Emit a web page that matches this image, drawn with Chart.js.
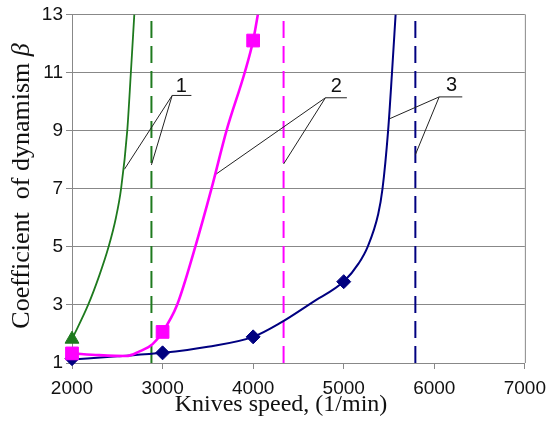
<!DOCTYPE html>
<html>
<head>
<meta charset="utf-8">
<script src="https://cdn.jsdelivr.net/npm/chart.js@4.4.0/dist/chart.umd.min.js"></script>
<style>
  html, body { margin: 0; padding: 0; background: #fff; }
</style>
</head>
<body>
<canvas id="myChart" width="554" height="440"></canvas>
<script>
// ticks
const xTicks = [2000, 3000, 4000, 5000, 6000, 7000];
const yTicks = [1, 3, 5, 7, 9, 11, 13];

// curve 1 (green)
const speed1 = [2000, 2178, 2300, 2404, 2485, 2542, 2610, 2650, 2688];
const beta1 = [1.82, 3, 4, 5, 6, 7, 9, 11, 13];
const markSpeed1 = [2000];
const markBeta1 = [1.82];

// curve 2 (magenta)
const speed2 = [2000, 2300, 2600, 2740, 2890, 3000, 3160, 3361, 3540, 3706, 3907, 4000, 4052];
const beta2 = [1.33, 1.27, 1.24, 1.39, 1.65, 2.07, 3, 5, 7, 9, 11, 12.1, 13];
const markSpeed2 = [2000, 3000, 4000];
const markBeta2 = [1.33, 2.07, 12.1];

// curve 3 (navy)
const speed3 = [2000, 2500, 3000, 3500, 4000, 4300, 4650, 5006, 5163, 5264, 5381, 5428, 5490, 5533, 5573];
const beta3 = [1.12, 1.23, 1.35, 1.56, 1.9, 2.38, 3.08, 3.82, 4.42, 5, 6.13, 6.99, 8.99, 10.99, 13];
const markSpeed3 = [2000, 3000, 4000, 5000];
const markBeta3 = [1.15, 1.35, 1.9, 3.8];

// critical speeds (dashed verticals)
const limitSpeed = [2877, 4336, 5791];

// leader lines for the labels 1, 2, 3 (speed, beta)
const labelText = ['1', '2', '3'];
const labelSpeed = [3206, 4917, 6192];
const labelBeta = [10.53, 10.51, 10.56];
const leaderCornerSpeed = [3106, 4798, 6054];
const leaderCornerBeta = [10.21, 10.13, 10.16];
const leaderEndSpeed = [3318, 5035, 6309];
const leaderCurveSpeed = [2579, 3580, 5508];
const leaderCurveBeta = [7.67, 7.48, 9.41];
const leaderDashBeta = [7.82, 7.85, 8.17];

const green = 'rgb(30,122,30)';
const magenta = '#ff00ff';
const navy = '#000080';
const colors = [green, magenta, navy];

function pts(xs, ys) {
  return xs.map((x, i) => ({x: x, y: ys[i]}));
}

const datasets = [];

// markers on top
datasets.push({data: pts(markSpeed1, markBeta1), showLine: false, pointStyle: 'triangle', pointRadius: 8,
  backgroundColor: green, borderColor: green, borderWidth: 1, clip: false, order: 1});
datasets.push({data: pts(markSpeed2, markBeta2), showLine: false, pointStyle: 'rect', pointRadius: 9,
  backgroundColor: magenta, borderColor: magenta, borderWidth: 1, clip: false, order: 2});
datasets.push({data: pts(markSpeed3, markBeta3), showLine: false, pointStyle: 'rectRot', pointRadius: 7,
  backgroundColor: navy, borderColor: navy, borderWidth: 1, clip: false, order: 3});

// curves
datasets.push({data: pts(speed1, beta1), showLine: true, borderColor: green, borderWidth: 1.8,
  pointRadius: 0, cubicInterpolationMode: 'monotone', order: 5});
datasets.push({data: pts(speed2, beta2), showLine: true, borderColor: magenta, borderWidth: 2.6,
  pointRadius: 0, cubicInterpolationMode: 'monotone', order: 4});
datasets.push({data: pts(speed3, beta3), showLine: true, borderColor: navy, borderWidth: 2,
  pointRadius: 0, cubicInterpolationMode: 'monotone', order: 6});

// dashed limits
for (let i = 0; i < limitSpeed.length; i++) {
  datasets.push({data: [{x: limitSpeed[i], y: 1}, {x: limitSpeed[i], y: 13}], showLine: true,
    borderColor: colors[i], borderWidth: 2, borderDash: [17, 8], pointRadius: 0, order: 8});
}

// leaders
for (let i = 0; i < labelText.length; i++) {
  datasets.push({data: [
      {x: leaderCurveSpeed[i], y: leaderCurveBeta[i]},
      {x: leaderCornerSpeed[i], y: leaderCornerBeta[i]},
      {x: leaderEndSpeed[i], y: leaderCornerBeta[i]}],
    showLine: true, borderColor: '#222', borderWidth: 1, pointRadius: 0, order: 7});
  datasets.push({data: [
      {x: leaderCornerSpeed[i], y: leaderCornerBeta[i]},
      {x: limitSpeed[i], y: leaderDashBeta[i]}],
    showLine: true, borderColor: '#222', borderWidth: 1, pointRadius: 0, order: 7});
}

const extras = {
  id: 'extras',
  afterDraw(chart) {
    const ctx = chart.ctx;
    const a = chart.chartArea;
    const xs = chart.scales.x, ys = chart.scales.y;
    ctx.save();
    // right border
    ctx.strokeStyle = '#888';
    ctx.lineWidth = 1;
    ctx.beginPath();
    ctx.moveTo(a.right + 0.5, a.top);
    ctx.lineTo(a.right + 0.5, a.bottom);
    ctx.stroke();

    // label numbers
    ctx.fillStyle = '#111';
    ctx.font = '20px "Liberation Sans"';
    ctx.textAlign = 'center';
    ctx.textBaseline = 'middle';
    for (let i = 0; i < labelText.length; i++) {
      ctx.fillText(labelText[i], xs.getPixelForValue(labelSpeed[i]), ys.getPixelForValue(labelBeta[i]));
    }

    // x title
    ctx.font = '24px "Liberation Serif"';
    ctx.fillText('Knives speed, (1/min)', 281, 405);

    // y title with italic beta
    ctx.translate(22, 186);
    ctx.rotate(-Math.PI / 2);
    ctx.textAlign = 'left';
    const t1 = 'Coefficient  of dynamism ';
    ctx.font = '26px "Liberation Serif"';
    const w1 = ctx.measureText(t1).width;
    ctx.font = 'italic 26px "Liberation Serif"';
    const w2 = ctx.measureText('β').width;
    const start = -(w1 + w2) / 2;
    ctx.font = '26px "Liberation Serif"';
    ctx.fillText(t1, start, 0);
    ctx.font = 'italic 26px "Liberation Serif"';
    ctx.fillText('β', start + w1, 0);
    ctx.restore();
  }
};

const config = {
  type: 'scatter',
  data: {datasets: datasets},
  options: {
    responsive: false,
    animation: false,
    layout: {padding: {top: 13, right: 24, left: 0, bottom: 0}},
    plugins: {legend: {display: false}, tooltip: {enabled: false}},
    scales: {
      x: {
        type: 'linear', min: 2000, max: 7000,
        afterFit: s => { s.height = 77; },
        afterBuildTicks: s => { s.ticks = xTicks.map(v => ({value: v})); },
        ticks: {font: {family: 'Liberation Sans', size: 19}, color: '#111', padding: 8, maxRotation: 0,
          callback: v => String(v)},
        grid: {drawOnChartArea: false, drawTicks: true, tickLength: 6, color: '#888'},
        border: {color: '#888'}
      },
      y: {
        type: 'linear', min: 1, max: 13,
        afterFit: s => { s.width = 72; },
        afterBuildTicks: s => { s.ticks = yTicks.map(v => ({value: v})); },
        ticks: {font: {family: 'Liberation Sans', size: 19}, color: '#111', padding: 3,
          callback: v => String(v)},
        grid: {color: '#888', tickLength: 6},
        border: {color: '#888'}
      }
    }
  },
  plugins: [extras]
};

const myChart = new Chart(document.getElementById('myChart'), config);
</script>
</body>
</html>
